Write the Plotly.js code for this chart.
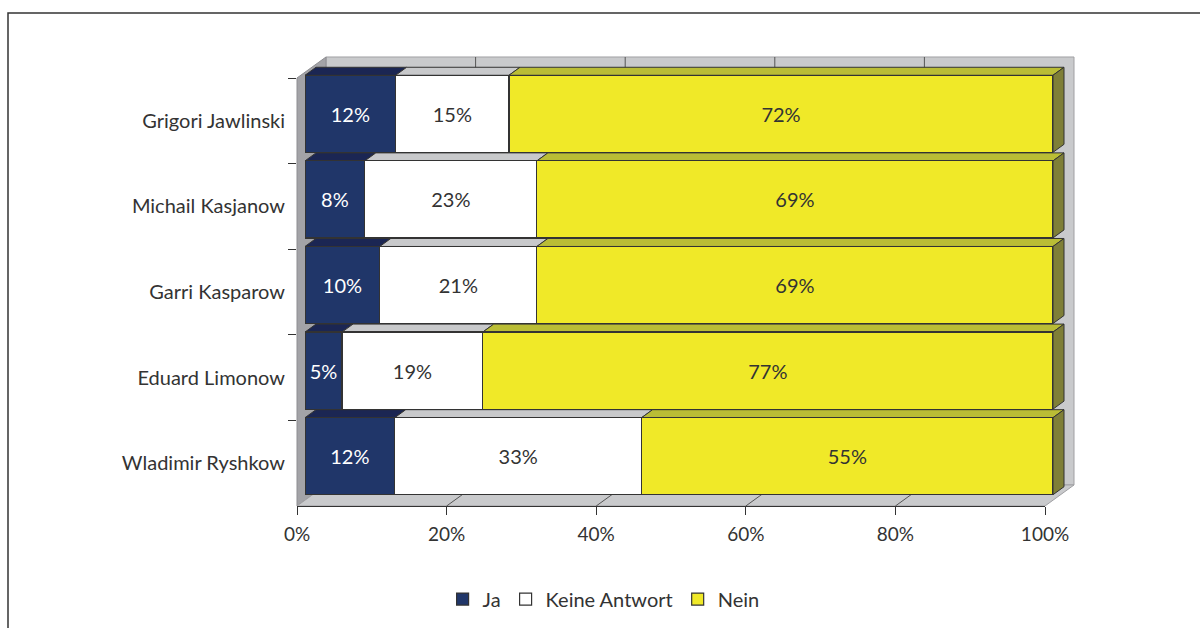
<!DOCTYPE html>
<html>
<head>
<meta charset="utf-8">
<script src="https://cdn.plot.ly/plotly-3.0.1.min.js"></script>
<style>html,body{margin:0;padding:0;background:#fff;}#chart{width:1200px;height:628px;}</style>
</head>
<body>
<div id="chart"></div>
<script>
// ---- data ----
const categories = ["Grigori Jawlinski", "Michail Kasjanow", "Garri Kasparow", "Eduard Limonow", "Wladimir Ryshkow"];
const seriesNames = ["Ja", "Keine Antwort", "Nein"];
const ja = [12, 8, 10, 5, 12];
const keineAntwort = [15, 23, 21, 19, 33];
const nein = [72, 69, 69, 77, 55];
const xTickVals = [0, 20, 40, 60, 80, 100];
const xTickText = ["0%", "20%", "40%", "60%", "80%", "100%"];

// ---- style ----
const FONT = "Lato, 'Open Sans', sans-serif";
const TXT = "#333333";
const frontColors = ["#203669", "#ffffff", "#f0e928"];
const topColors = ["#1b2653", "#c8c9cb", "#babd35"];
const sideColors = ["#131c3d", "#9c9da0", "#7f7f37"];
const textColors = ["#ffffff", TXT, TXT];
const seriesValues = [ja, keineAntwort, nein];

const traces = seriesValues.map((vals, k) => ({
  type: "bar",
  orientation: "h",
  name: seriesNames[k],
  y: categories,
  x: vals,
  xaxis: "x",
  yaxis: "y",
  text: vals.map(v => v + "%"),
  textposition: "inside",
  insidetextanchor: "middle",
  textangle: 0,
  constraintext: "none",
  textfont: {family: FONT, size: 20, color: textColors[k]},
  marker: {color: frontColors[k], line: {color: "#333333", width: 1.2}},
  hoverinfo: "skip"
}));
// invisible trace so the front-plane category axis knows its categories
traces.push({
  type: "scatter", mode: "markers", x: categories.map(() => 0), y: categories,
  xaxis: "x2", yaxis: "y2", marker: {opacity: 0}, showlegend: false, hoverinfo: "skip"
});

const W = 1200, H = 628;
const layout = {
  width: W, height: H,
  margin: {l: 0, r: 0, t: 0, b: 0},
  paper_bgcolor: "#ffffff",
  plot_bgcolor: "rgba(0,0,0,0)",
  barmode: "stack",
  barnorm: "percent",
  bargap: 0.1,
  font: {family: FONT, size: 20, color: TXT},
  showlegend: true,
  legend: {
    orientation: "h", x: 0.503, xanchor: "center", y: 0.046, yanchor: "middle",
    font: {family: FONT, size: 20, color: TXT}, itemwidth: 30, traceorder: "normal",
    bgcolor: "rgba(0,0,0,0)"
  },
  // bar plane (slightly inside the depth)
  xaxis: {domain: [305 / W, 1053 / W], range: [0, 100], visible: false, fixedrange: true},
  yaxis: {domain: [129 / H, 557 / H], type: "category", categoryarray: categories,
          categoryorder: "array", range: [4.5, -0.5], visible: false, fixedrange: true},
  // front plane axes with ticks and labels
  xaxis2: {domain: [297 / W, 1045 / W], range: [0, 100], anchor: "y2",
           tickvals: xTickVals, ticktext: xTickText, ticks: "outside", ticklen: 8,
           tickcolor: "#333333", showline: true, linecolor: "#333333", linewidth: 1.2,
           showgrid: false, zeroline: false, automargin: false, ticklabelstandoff: 3,
           tickfont: {family: FONT, size: 19, color: TXT}, fixedrange: true},
  yaxis2: {domain: [122 / H, 550 / H], type: "category", categoryarray: categories,
           categoryorder: "array", range: [4.5, -0.5], anchor: "x2",
           tickson: "boundaries", ticks: "outside", ticklen: 8, tickcolor: "#333333",
           showline: false, showgrid: false, zeroline: false, automargin: false,
           ticklabelstandoff: 11,
           tickfont: {family: FONT, size: 20, color: TXT}, fixedrange: true},
  shapes: []
};

const gd = document.getElementById("chart");
Plotly.newPlot(gd, traces, layout, {staticPlot: true}).then(() => {
  const fl = gd._fullLayout;
  const sz = fl._size;
  const fx = fl.xaxis2, fy = fl.yaxis2;   // front plane
  const bx = fl.xaxis, by = fl.yaxis;     // bar plane
  const px = (ax, v) => ax._offset + ax.l2p(v);
  const P = (x, y) => ((x - sz.l) / sz.w).toFixed(5) + "," + (1 - (y - sz.t) / sz.h).toFixed(5);
  const poly = pts => "M" + pts.map(p => P(p[0], p[1])).join("L") + "Z";
  const shapes = [];
  const add = (pts, fill, line, lw) => shapes.push({
    type: "path", xref: "paper", yref: "paper", layer: "below",
    path: poly(pts), fillcolor: fill, line: {color: line, width: lw}
  });

  const DX = 29, DY = 21;    // chart depth (px)
  const L = px(fx, 0), R = px(fx, 100);
  const T = fy._offset, B = fy._offset + fy._length;

  // back wall, left wall, floor
  add([[L + DX, T - DY], [R + DX, T - DY], [R + DX, B - DY], [L + DX, B - DY]], "#c9cacc", "#a0a0a3", 1);
  add([[L, T], [L + DX, T - DY], [L + DX, B - DY], [L, B]], "#a3a3a7", "#8e8e92", 1);
  add([[L, B], [R, B], [R + DX, B - DY], [L + DX, B - DY]], "#c9cacc", "#a0a0a3", 1);
  // gridlines on back wall and floor
  xTickVals.slice(1, -1).forEach(v => {
    const x = px(fx, v);
    shapes.push({type: "line", xref: "paper", yref: "paper", layer: "below",
      x0: (x + DX) / W, x1: (x + DX) / W, y0: 1 - (T - DY) / H, y1: 1 - (B - DY) / H,
      line: {color: "#555555", width: 1}});
    shapes.push({type: "line", xref: "paper", yref: "paper", layer: "below",
      x0: x / W, x1: (x + DX) / W, y0: 1 - B / H, y1: 1 - (B - DY) / H,
      line: {color: "#555555", width: 1}});
  });

  // 3D faces of the bars
  const BDX = 11, BDY = 8;
  const half = (1 - layout.bargap) / 2;
  categories.forEach((c, i) => {
    const total = seriesValues.reduce((s, arr) => s + arr[i], 0);
    const yA = px(by, i - half), yB = px(by, i + half);
    const top = Math.min(yA, yB), bot = Math.max(yA, yB);
    let cum = 0;
    seriesValues.forEach((arr, k) => {
      const x0 = px(bx, cum / total * 100);
      cum += arr[i];
      const x1 = px(bx, cum / total * 100);
      add([[x0, top], [x1, top], [x1 + BDX, top - BDY], [x0 + BDX, top - BDY]], topColors[k], "#333333", 1);
      if (k === seriesValues.length - 1) {
        add([[x1, top], [x1 + BDX, top - BDY], [x1 + BDX, bot - BDY], [x1, bot]], sideColors[k], "#333333", 1);
      }
    });
  });

  // outer frame
  shapes.push({type: "rect", xref: "paper", yref: "paper", layer: "above",
    x0: 8 / W, x1: 1.01, y0: -0.01, y1: 1 - 13 / H,
    line: {color: "#333333", width: 1.5}, fillcolor: "rgba(0,0,0,0)"});

  return Plotly.relayout(gd, {shapes: shapes});
});
</script>
</body>
</html>
